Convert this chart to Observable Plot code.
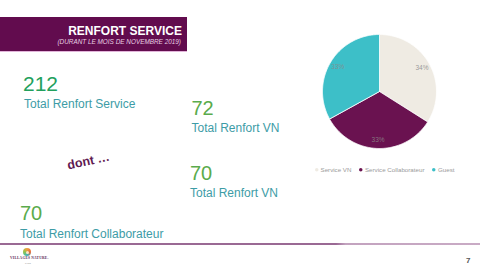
<!DOCTYPE html>
<html>
<head>
<meta charset="utf-8">
<script src="https://cdn.jsdelivr.net/npm/d3@7"></script>
<script src="https://cdn.jsdelivr.net/npm/@observablehq/plot@0.6"></script>
<style>
  html, body { margin: 0; padding: 0; background: #fff; }
  #slide { position: relative; width: 480px; height: 270px; overflow: hidden; background: #fff;
           font-family: "Liberation Sans", Arial, Helvetica, sans-serif; }
  .abs { position: absolute; white-space: nowrap; line-height: 1; }
  #banner { left: 0; top: 17px; width: 187px; height: 35px; background: #620c4e;
            border-bottom: 1px solid #e2b4da; box-sizing: border-box; }
  #title { right: 5px; top: 8px; color: #fff; font-weight: bold; font-size: 12px; position: absolute; line-height: 1; }
  #subtitle { right: 6px; top: 22px; color: #e8cfe3; font-style: italic; font-size: 6.4px; position: absolute; line-height: 1; }
  .num { font-size: 20px; color: #5aab4c; }
  .lab { font-size: 12px; color: #3d9ca6; }
  #dont { left: 67px; top: 155px; font-size: 12.5px; font-weight: bold; color: #5f1a52;
          transform: rotate(-12deg); transform-origin: 50% 50%; }
  #rule { left: 0; top: 243px; width: 480px; height: 1.5px;
          background: linear-gradient(to right, #9a6994 0%, #9a6994 70%, #c3a3bf 72%, #c9abc5 100%); }
  #logo-circle { left: 23px; top: 248px; width: 8px; height: 8px; border-radius: 50%;
                 background: conic-gradient(#f0a040, #e86a3a, #3bb7c0, #8fc54a, #f0a040); }
  #logo-circle::after { content: ""; position: absolute; left: 2.5px; top: 2.5px; width: 3px; height: 3px; border-radius: 50%; background: #fbe7c6; }
  #logo-text { left: 10px; top: 257px; font-size: 3.6px; font-family: "Liberation Serif", serif; font-weight: bold; color: #5a2a55; letter-spacing: 0.2px; }
  #logo-sub { left: 25px; top: 262px; font-size: 2px; color: #888; }
  #page { left: 466px; top: 257px; font-size: 8px; font-weight: bold; color: #555; }
  #pie { position: absolute; left: 289px; top: 21px; }
  #legend { position: absolute; left: 315px; top: 166px; }
  .pl-swatch { margin-right: 8px !important; }
  .pl-swatch > svg { margin-right: 2px !important; }
  .pl-swatch svg rect { rx: 2px; ry: 2px; }
</style>
</head>
<body>
<div id="slide">
  <div id="banner" class="abs">
    <div id="title">RENFORT SERVICE</div>
    <div id="subtitle">(DURANT LE MOIS DE NOVEMBRE 2019)</div>
  </div>
  <div id="kpis"></div>
  <div id="dont" class="abs">dont …</div>
  <div id="rule" class="abs"></div>
  <div id="logo-circle" class="abs"></div>
  <div id="logo-text" class="abs">VILLAGES NATURE.</div>
  <div id="logo-sub" class="abs">PARIS</div>
  <div id="page" class="abs">7</div>
  <div id="pie"></div>
  <div id="legend"></div>
</div>
<script>
// ---- data ----
const categories = ["Service VN", "Service Collaborateur", "Guest"];
const values = [72, 70, 70];
const colors = ["#efebe3", "#6a1250", "#3dbfc8"];

const kpiValues = [212, 72, 70, 70];
const kpiLabels = ["Total Renfort Service", "Total Renfort VN", "Total Renfort VN", "Total Renfort Collaborateur"];

// ---- KPI texts (slide layout) ----
const kpiLayout = [
  {x: 23, numTop: 73, labTop: 97.5, size: 21, color: "#22a05c"},
  {x: 191.5, numTop: 98, labTop: 122, size: 20, color: "#5aab4c"},
  {x: 190, numTop: 163, labTop: 186.5, size: 20, color: "#5aab4c"},
  {x: 20, numTop: 203, labTop: 227.5, size: 20, color: "#5aab4c"}
];
const kpis = document.getElementById("kpis");
kpiValues.forEach((v, i) => {
  const L = kpiLayout[i];
  const n = document.createElement("div");
  n.className = "abs num";
  n.style.left = L.x + "px"; n.style.top = L.numTop + "px";
  n.style.fontSize = L.size + "px"; n.style.color = L.color;
  n.textContent = v;
  kpis.appendChild(n);
  const t = document.createElement("div");
  t.className = "abs lab";
  t.style.left = (L.x + (i === 0 ? 1 : 0)) + "px"; t.style.top = L.labTop + "px";
  t.textContent = kpiLabels[i];
  kpis.appendChild(t);
});

// ---- pie geometry from data ----
const total = d3.sum(values);
const arcs = d3.pie().sort(null)(values);
const slicePts = [];
const labels = [];
arcs.forEach((a, i) => {
  const cat = categories[i];
  slicePts.push({cat, px: 0, py: 0});
  const n = Math.max(2, Math.ceil((a.endAngle - a.startAngle) / (Math.PI / 180)));
  for (let k = 0; k <= n; k++) {
    const t = a.startAngle + (a.endAngle - a.startAngle) * k / n;
    slicePts.push({cat, px: Math.sin(t), py: Math.cos(t)});
  }
  slicePts.push({cat, px: 0, py: 0});
  const mid = (a.startAngle + a.endAngle) / 2;
  labels.push({cat, px: 0.85 * Math.sin(mid), py: 0.85 * Math.cos(mid),
               text: Math.round(values[i] / total * 100) + "%"});
});

const pie = Plot.plot({
  width: 180,
  height: 140,
  margin: 0,
  style: {background: "transparent", overflow: "visible"},
  x: {domain: [-1, 1], range: [33, 147], axis: null},
  y: {domain: [-1, 1], range: [127, 13], axis: null},
  color: {domain: categories, range: colors},
  marks: [
    Plot.line(slicePts, {x: "px", y: "py", z: "cat", fill: "cat", stroke: "white", strokeWidth: 0.8, curve: "linear"}),
    Plot.text(labels, {x: "px", y: "py", text: "text", fill: "#8a8a8a", fillOpacity: 0.85, fontSize: 6.5,
                       fontFamily: "Liberation Sans, Arial, sans-serif"})
  ]
});
document.getElementById("pie").appendChild(pie);

const legend = Plot.legend({
  color: {domain: categories, range: colors},
  legend: "swatches",
  swatchSize: 3.5,
  className: "pl",
  style: {fontSize: "6.2px", color: "#9a9a9a", fontFamily: "Liberation Sans, Arial, sans-serif", margin: 0, minHeight: 0}
});
document.getElementById("legend").appendChild(legend);
</script>
</body>
</html>
